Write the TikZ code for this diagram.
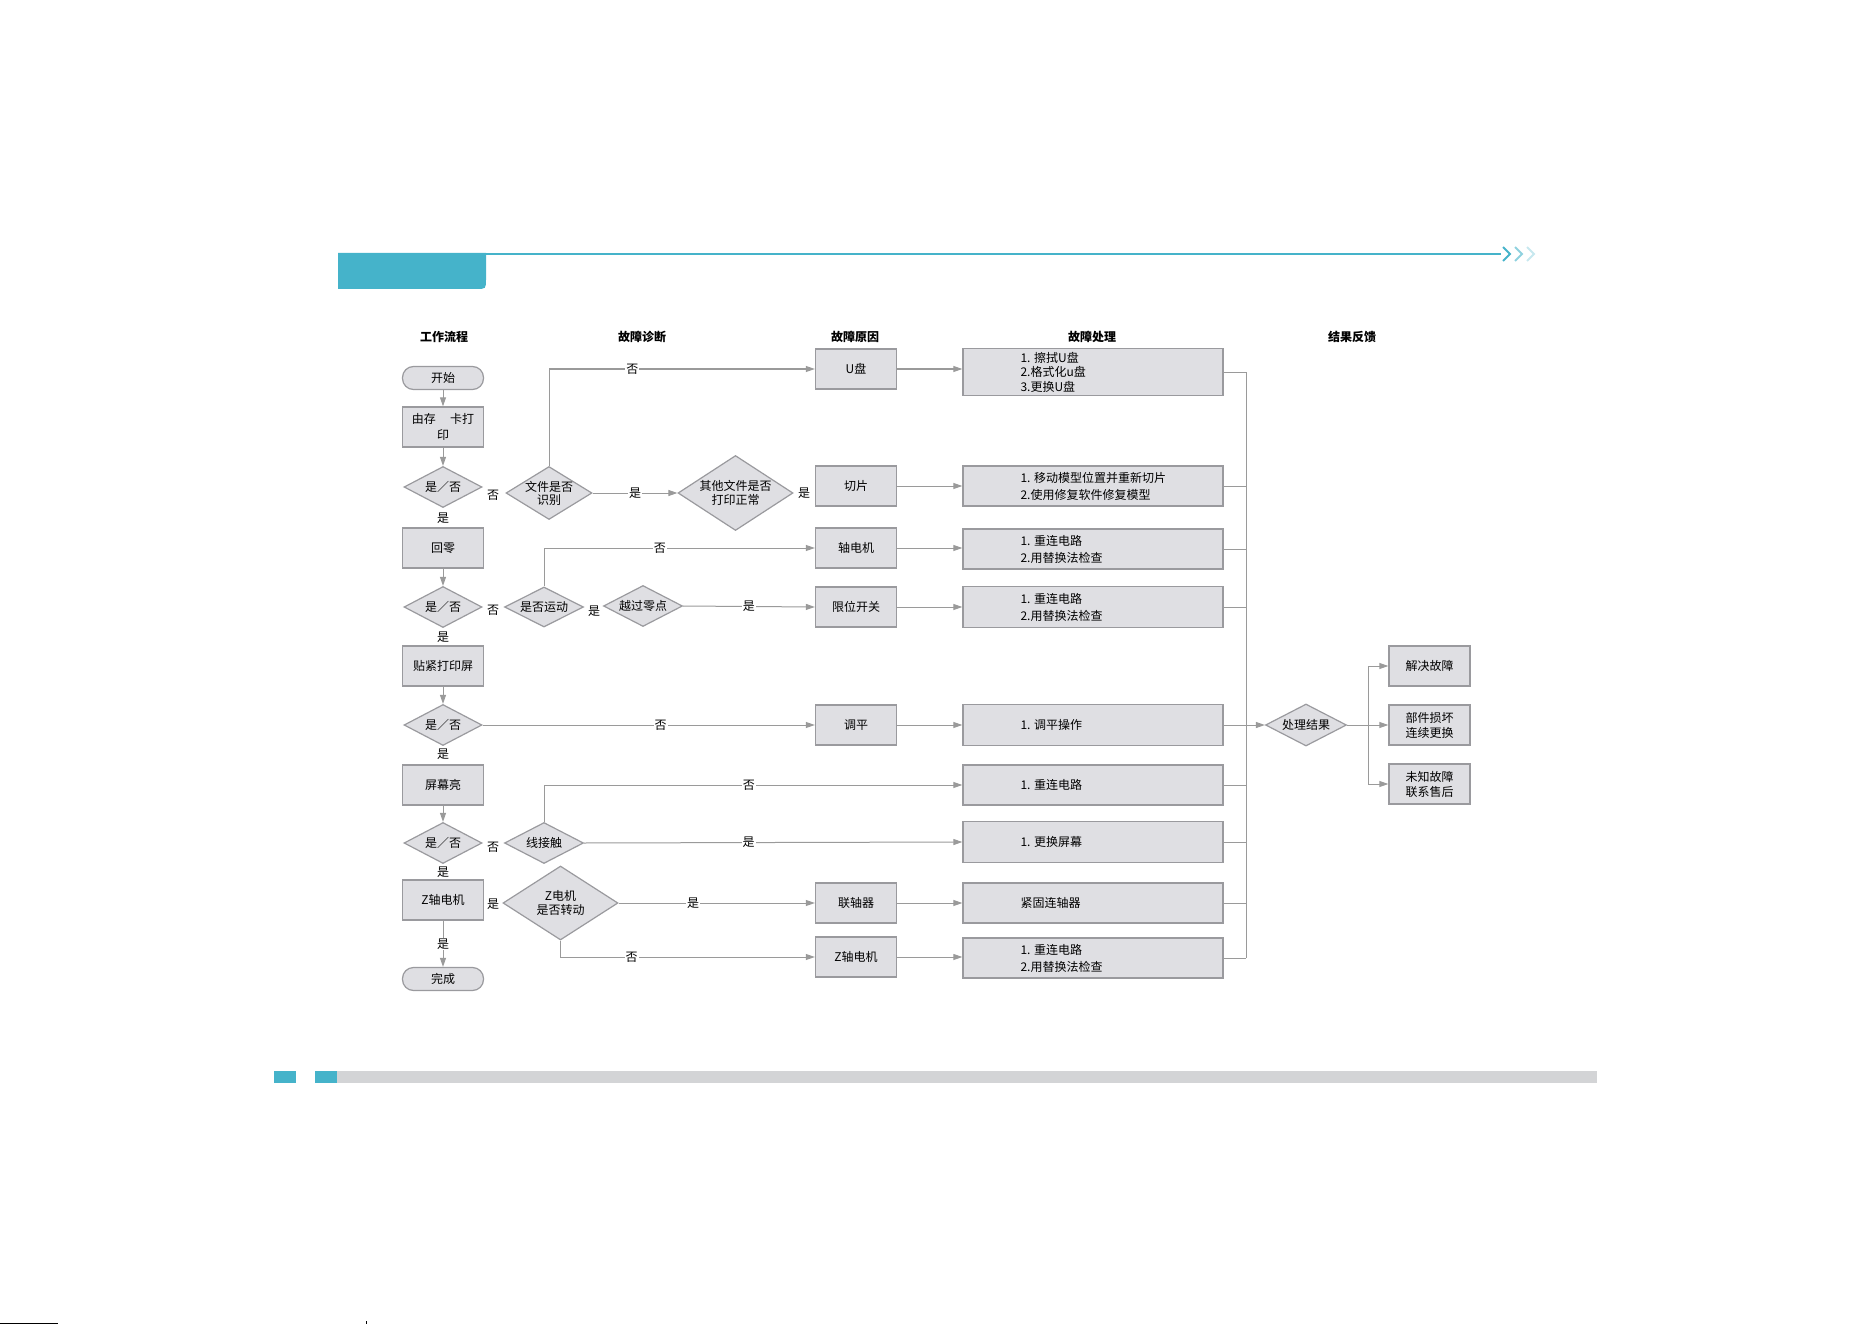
\documentclass[tikz,border=0pt]{standalone}
\usepackage{fontspec}
\setmainfont{Noto Sans CJK SC}
\usetikzlibrary{arrows.meta,shapes.geometric,positioning}

\definecolor{boxfill}{HTML}{DFDFE3}
\definecolor{boxline}{HTML}{9A9A9E}
\definecolor{wirecol}{HTML}{9A9A9A}
\definecolor{tabblue}{HTML}{45B3CA}
\definecolor{bargray}{HTML}{D3D4D6}

\begin{document}
\begin{tikzpicture}[x=1pt,y=-1pt,
    every node/.style={font=\fontsize{12}{15}\selectfont},
    head/.style={font=\fontsize{12}{14}\selectfont\bfseries},
    flowbox/.style={draw=boxline,fill=boxfill,line width=1.3pt,minimum width=81pt,minimum height=40pt,inner sep=1pt,align=center},
    fixbox/.style={draw=boxline,fill=boxfill,line width=1.3pt,minimum width=260pt,minimum height=40pt},
    fixtext/.style={anchor=west,align=left,inner sep=0pt,font=\fontsize{12}{17}\selectfont},
    endbox/.style={draw=boxline,fill=boxfill,line width=1.2pt,rounded corners=11pt,minimum width=81pt,minimum height=23pt},
    dia/.style={diamond,aspect=2,draw=boxline,fill=boxfill,line width=1.2pt,inner sep=0pt},
    wire/.style={draw=wirecol,line width=1pt},
    arr/.style={wire,-{Triangle[length=9pt,width=6pt]}},
    tag/.style={fill=white,inner sep=1pt}]
  \useasboundingbox (0,0) rectangle (1872,1324);
  \def\colx{443}

  % page decoration
  \fill[tabblue] (338,253) -- (486,253) -- (486,279) .. controls (486,289) .. (476,289) -- (338,289) -- cycle;
  \draw[tabblue,line width=2.5pt] (486,254) -- (1501,254);
  \foreach \x/\o in {1503/1,1515/0.6,1527/0.3}
    \draw[tabblue,opacity=\o,line width=1.8pt] (\x,247) -- (\x+7,254) -- (\x,261);
  \fill[tabblue] (274,1071) rectangle (296,1083);
  \fill[tabblue] (315,1071) rectangle (337,1083);
  \fill[bargray] (337,1071) rectangle (1597,1083);
  \draw[black,line width=1.5pt] (0,1323.5) -- (58,1323.5);
  \draw[black,line width=1pt] (366,1321) -- (366,1324);

  % column heads
  \node[head] (hflow) at (444,337) {工作流程};
  \node[head] (hdiag) at (642,337) {故障诊断};
  \node[head] (hcause) at (855,337) {故障原因};
  \node[head] (hfix) at (1092,337) {故障处理};
  \node[head] (hres) at (1352,337) {结果反馈};

  % work flow
  \node[endbox] (start) at (\colx,378) {开始};
  \node[flowbox,font=\fontsize{12}{16}\selectfont] (sdprint) at (\colx,427) {由存\hspace{1.2em}卡打\\印};
  \node[dia,minimum width=78pt,minimum height=41pt] (dA) at (\colx,487) {是／否};
  \node[flowbox] (home) at (\colx,548) {回零};
  \node[dia,minimum width=78pt,minimum height=41pt] (dB) at (\colx,607) {是／否};
  \node[flowbox] (press) at (\colx,666) {贴紧打印屏};
  \node[dia,minimum width=78pt,minimum height=41pt] (dC) at (\colx,725) {是／否};
  \node[flowbox] (screen) at (\colx,785) {屏幕亮};
  \node[dia,minimum width=78pt,minimum height=41pt] (dD) at (\colx,843) {是／否};
  \node[flowbox] (zmotor) at (\colx,900) {Z轴电机};
  \node[endbox] (finish) at (\colx,979) {完成};

  \draw[arr] (start) -- (sdprint);
  \draw[arr] (sdprint) -- (dA);
  \draw[arr] (home) -- (dB);
  \draw[arr] (press) -- (dC);
  \draw[arr] (screen) -- (dD);
  \draw[arr] (zmotor) -- node[tag] (yE) {是} (finish);

  \foreach \n/\y in {yA/518,yB/637,yC/754,yD/872}
    \node[tag] (\n) at (\colx,\y) {是};
  \foreach \n/\y in {nA/495,nB/610,nD/847}
    \node[tag] (\n) at (493,\y) {否};
  \node[tag] (yZ) at (493,904) {是};

  % diagnosis
  \node[dia,minimum width=86pt,minimum height=53pt,label={[align=center,font=\fontsize{12}{13}\selectfont]center:{文件是否\\识别}}] (file) at (549,493) {};
  \node[dia,minimum width=115pt,minimum height=75pt,label={[align=center,font=\fontsize{12}{14}\selectfont]center:{其他文件是否\\打印正常}}] (other) at (735.5,493) {};
  \node[dia,minimum width=79pt,minimum height=40pt] (move) at (544,607) {是否运动};
  \node[dia,minimum width=79pt,minimum height=41pt,label={center:越过零点}] (zero) at (643,606) {};
  \node[dia,minimum width=79pt,minimum height=41pt] (contact) at (544,843) {线接触};
  \node[dia,minimum width=115pt,minimum height=74pt,label={[align=center,font=\fontsize{12}{14}\selectfont]center:{Z电机\\是否转动}}] (zturn) at (560.5,903) {};
  \node[tag] (yO) at (804,493) {是};
  \node[tag] (yM) at (594,611) {是};

  % causes
  \foreach \n/\y/\t in {udisk/369/U盘,slice/486/切片,axmotor/548/轴电机,limit/607/限位开关,level/725/调平,coupler/903/联轴器,zaxis/957/Z轴电机}
    \node[flowbox] (\n) at (856,\y) {\t};

  % handling
  \foreach \n/\y/\h in {fixU/372/47,fixSlice/486/40,fixAx/549/40,fixLim/607/41,fixLevel/725/41,fixLine/785/40,fixScreen/842/41,fixCoup/903/40,fixZ/958/40}
    \node[fixbox,minimum height=\h] (\n) at (1093,\y) {};
  \node[fixtext,font=\fontsize{12}{14.5}\selectfont] at ([xshift=58pt]fixU.west) {1. 擦拭U盘\\2.格式化u盘\\3.更换U盘};
  \node[fixtext] at ([xshift=58pt]fixSlice.west) {1. 移动模型位置并重新切片\\2.使用修复软件修复模型};
  \node[fixtext] at ([xshift=58pt]fixAx.west) {1. 重连电路\\2.用替换法检查};
  \node[fixtext] at ([xshift=58pt]fixLim.west) {1. 重连电路\\2.用替换法检查};
  \node[fixtext] at ([xshift=58pt]fixLevel.west) {1. 调平操作};
  \node[fixtext] at ([xshift=58pt]fixLine.west) {1. 重连电路};
  \node[fixtext] at ([xshift=58pt]fixScreen.west) {1. 更换屏幕};
  \node[fixtext] at ([xshift=58pt]fixCoup.west) {紧固连轴器};
  \node[fixtext] at ([xshift=58pt]fixZ.west) {1. 重连电路\\2.用替换法检查};

  % diagnosis connectors
  \draw[arr] (file.north) |- node[tag,pos=0.657] {否} (udisk.west);
  \draw[arr] (file.east) -- node[tag] {是} (other.west);
  \draw[arr] (move.north) |- node[tag,pos=0.714] {否} (axmotor.west);
  \draw[arr] (zero.east) -- node[tag] {是} (limit.west);
  \draw[arr] (dC.east) -- node[tag,pos=0.536] {否} (level.west);
  \draw[arr] (contact.north) |- node[tag,pos=0.745] {否} (fixLine.west);
  \draw[arr] (contact.east) -- node[tag,pos=0.435] {是} (fixScreen.west);
  \draw[arr] (zturn.east) -- node[tag,pos=0.38] {是} (coupler.west);
  \draw[arr] (zturn.south) |- node[tag,pos=0.64] {否} (zaxis.west);

  % cause -> handling
  \foreach \c/\f in {udisk/fixU,slice/fixSlice,axmotor/fixAx,limit/fixLim,level/fixLevel,coupler/fixCoup,zaxis/fixZ}
    \draw[arr] (\c.east) -- (\c.east -| \f.west);

  % result feedback
  \coordinate (bus) at (1246,0);
  \foreach \f in {fixU,fixSlice,fixAx,fixLim,fixLine,fixScreen,fixCoup,fixZ}
    \draw[wire] (\f.east) -- (\f.east -| bus);
  \draw[wire] (fixU.east -| bus) -- (fixZ.east -| bus);
  \node[dia,minimum width=81pt,minimum height=42pt] (result) at (1306,725) {处理结果};
  \draw[arr] (fixLevel.east) -- (result.west);
  \foreach \n/\y/\t in {solved/666/解决故障,broken/725/{部件损坏\\连续更换},unknown/784/{未知故障\\联系售后}}
    \node[flowbox,font=\fontsize{12}{15}\selectfont] (\n) at (1429.5,\y) {\t};
  \coordinate (split) at (1368,725);
  \draw[arr] (result.east) -- (broken.west);
  \draw[arr] (split) |- (solved.west);
  \draw[arr] (split) |- (unknown.west);
\end{tikzpicture}
\end{document}
